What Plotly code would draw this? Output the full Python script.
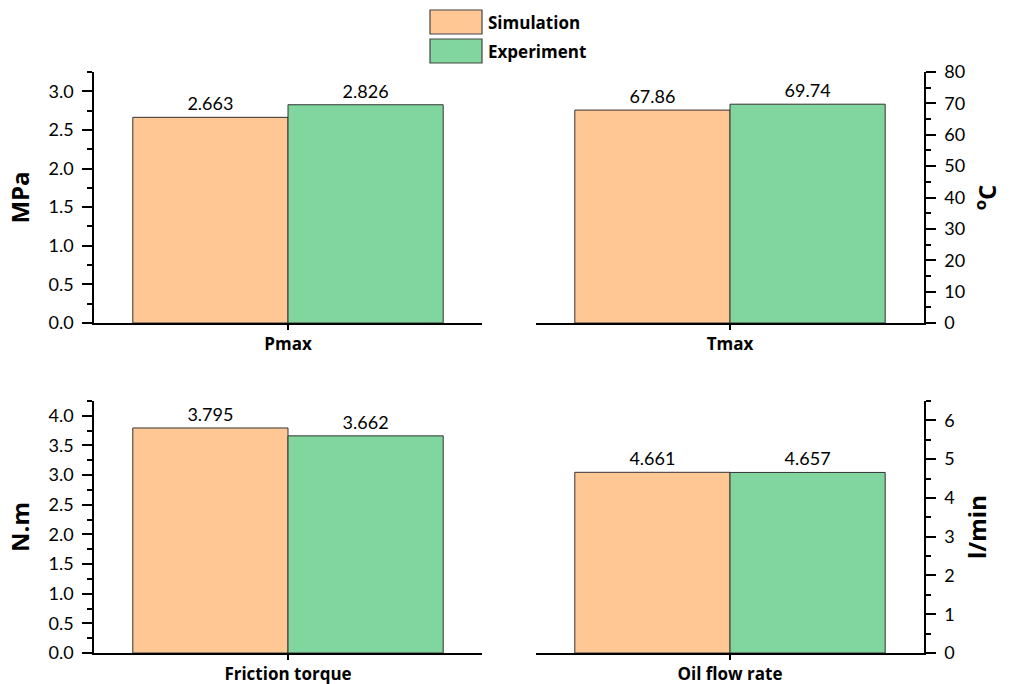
import plotly.graph_objects as go

categories = ["Pmax", "Tmax", "Friction torque", "Oil flow rate"]
simulation = [2.663, 67.86, 3.795, 4.661]
experiment = [2.826, 69.74, 3.662, 4.657]
units = ["MPa", "<sup>o</sup>C", "N.m", "l/min"]
series_names = ["Simulation", "Experiment"]

y_ranges = [[0, 3.25], [0, 80], [0, 4.25], [0, 6.5]]
y_dticks = [0.5, 10, 0.5, 1]
y_minor = [0.25, 5, 0.25, 0.5]
y_sides = ["left", "right", "left", "right"]

W, H = 1013, 684
ORANGE = "#FFC794"
GREEN = "#80D69E"
FONT = "Lato"
BFONT = "Open Sans"

# panel pixel boxes: (x0, x1, ytop, ybottom)
panels = [(94, 482, 72, 323), (536, 924, 72, 323), (94, 482, 401, 653), (536, 924, 401, 653)]
standoffs = [12, 15, 12, 15]

fig = go.Figure()
for i, cat in enumerate(categories):
    n = "" if i == 0 else str(i + 1)
    for name, vals, col in [(series_names[0], simulation, ORANGE), (series_names[1], experiment, GREEN)]:
        fig.add_trace(go.Bar(
            x=[cat], y=[vals[i]], name=name,
            xaxis="x" + n, yaxis="y" + n,
            marker=dict(color=col, line=dict(color="#333333", width=1)),
            text=[f"{vals[i]}"], textposition="outside",
            textfont=dict(family=FONT, size=18, color="black"),
            cliponaxis=False, showlegend=False,
        ))
    x0, x1, yt, yb = panels[i]
    fig.layout["xaxis" + n] = dict(
        domain=[x0 / W, x1 / W], anchor="y" + n, type="category",
        range=[-0.5, 0.5], showline=True, linecolor="black", linewidth=1.5,
        ticks="outside", ticklen=5, tickcolor="black", tickwidth=1.5,
        tickfont=dict(family=BFONT, size=17, color="black", weight="bold"),
        ticklabelstandoff=0, automargin=False,
        showgrid=False, zeroline=False, fixedrange=True,
    )
    fig.layout["yaxis" + n] = dict(
        domain=[1 - yb / H, 1 - yt / H], anchor="x" + n, side=y_sides[i],
        range=y_ranges[i], dtick=y_dticks[i], tick0=0,
        tickformat=".1f" if y_dticks[i] < 1 else "d",
        showline=True, linecolor="black", linewidth=1.5,
        ticks="outside", ticklen=10, tickcolor="black", tickwidth=1.5,
        minor=dict(dtick=y_minor[i], ticks="outside", ticklen=5, tickcolor="black", tickwidth=1.5, showgrid=False),
        tickfont=dict(family=FONT, size=18, color="black"),
        ticklabelstandoff=5, automargin=False,
        title=dict(text=units[i], font=dict(family=BFONT, size=24, color="black", weight="bold"), standoff=standoffs[i]),
        showgrid=False, zeroline=False, fixedrange=True,
    )

fig.update_layout(
    width=W, height=H, margin=dict(l=0, r=0, t=0, b=0, autoexpand=False),
    barmode="group", bargap=0.2, bargroupgap=0,
    plot_bgcolor="white", paper_bgcolor="white", showlegend=False,
)

# legend drawn as boxes + text
legend_rows = [(10, 34, ORANGE, series_names[0]), (39, 63, GREEN, series_names[1])]
for yt, yb, col, name in legend_rows:
    fig.add_shape(type="rect", xref="paper", yref="paper",
                  x0=430 / W, x1=482 / W, y0=1 - yb / H, y1=1 - yt / H,
                  fillcolor=col, line=dict(color="#444444", width=1.2))
    fig.add_annotation(xref="paper", yref="paper", x=486 / W, y=1 - (yt + yb) / 2 / H,
                       xanchor="left", yanchor="middle", showarrow=False, text=name,
                       font=dict(family=BFONT, size=17, color="black", weight="bold"))

fig.write_html("out.html", config={"displayModeBar": False},
               post_script="document.body.style.margin='0';document.body.style.overflow='hidden';")
